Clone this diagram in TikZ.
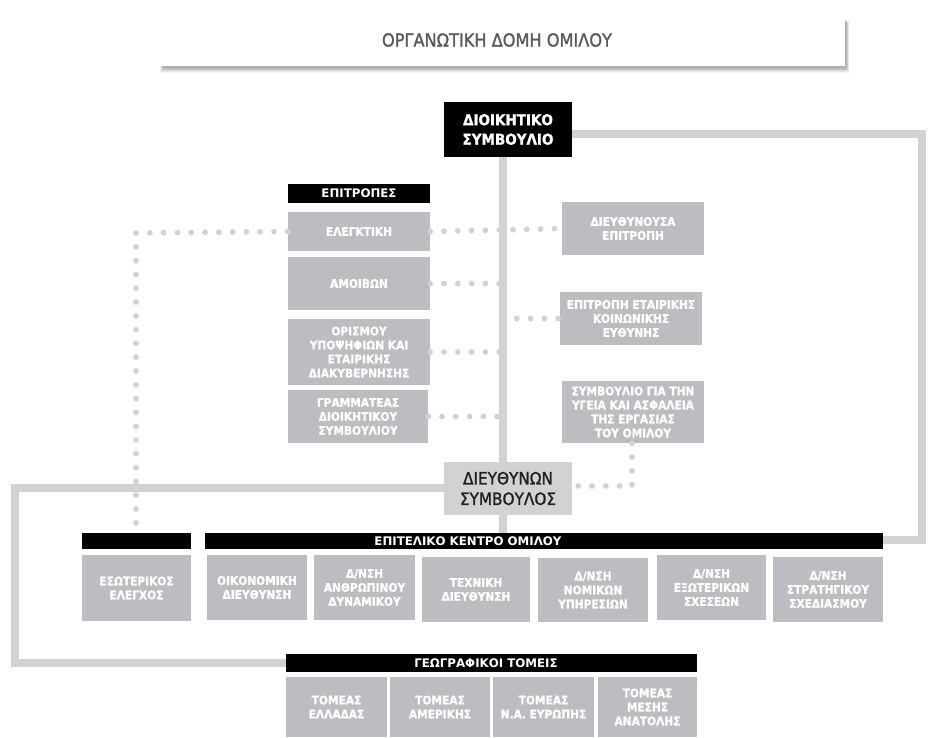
\documentclass[tikz,border=0pt]{standalone}
\usepackage{fontspec}
\setmainfont{DejaVu Sans}
\newfontfamily\condf{DejaVu Sans Condensed}[BoldFont={DejaVu Sans Condensed Bold}, BoldFeatures={FakeBold=1.2}]
\newfontfamily\condmed{DejaVu Sans Condensed}[FakeBold=1.3]
\usetikzlibrary{calc}
\definecolor{boxg}{HTML}{BCBDC0}
\definecolor{lineg}{HTML}{D1D2D4}
\definecolor{titleg}{HTML}{58595B}
\definecolor{darkt}{HTML}{231F20}
\tikzset{
  gbox/.style={fill=boxg, text=white, font=\condf\fontsize{11.8}{14}\selectfont\bfseries, align=center, inner sep=1pt},
  hbar/.style={fill=black, text=white, font=\fontsize{11.8}{12}\selectfont\bfseries, inner sep=0pt},
  htext/.style={text=white, font=\fontsize{11.8}{12}\selectfont\bfseries, inner sep=0pt},
  solidln/.style={draw=lineg, line width=8pt},
  dotln/.style={draw=lineg, line width=5.8pt, line cap=round, dash pattern=on 0pt off 13.8pt},
}
\begin{document}
\begin{tikzpicture}[x=1pt,y=-1pt]
\useasboundingbox (0,0) rectangle (929,737);
% title with shadow
\foreach \s in {0,1,2,3,4,5,6}{
  \fill[black, opacity=0.05] ({163-\s*0.5},{20+\s*0.3}) rectangle ({846+\s*0.5},{68+\s*0.8});
}
\node[fill=white, minimum width=685pt, minimum height=54pt, inner sep=0pt] (titlebox) at (502.5,39) {};
\node[text=titleg, inner sep=0pt, font=\condmed\fontsize{18}{20}\selectfont] (title) at (497,40) {ΟΡΓΑΝΩΤΙΚΗ ΔΟΜΗ ΟΜΙΛΟΥ};

\coordinate (vx) at (503,0);
\coordinate (lx) at (136,233);
\coordinate (lend) at (136,524);
\coordinate (rx) at (632,486);
\coordinate (tr) at (922,134);
\coordinate (br) at (922,540);
\coordinate (tl) at (15,488);
\coordinate (bl) at (15,663);

% nodes
\node[fill=black, text=white, font=\condf\fontsize{15}{19.5}\selectfont\bfseries, align=center,
      minimum width=128pt, minimum height=55pt, inner sep=0pt] (ds) at (508,129.5) {ΔΙΟΙΚΗΤΙΚΟ\\ΣΥΜΒΟΥΛΙΟ};
\node[fill=lineg, text=darkt, font=\condmed\fontsize{17}{20.5}\selectfont, align=center,
      minimum width=128pt, minimum height=53pt, inner sep=0pt] (ceo) at (508,488.5) {ΔΙΕΥΘΥΝΩΝ\\ΣΥΜΒΟΥΛΟΣ};

\node[hbar, minimum width=142pt, minimum height=19pt] (epit) at (359,193.5) {ΕΠΙΤΡΟΠΕΣ};
\node[gbox, minimum width=142pt, minimum height=39pt] (eleg) at (359,231.5) {ΕΛΕΓΚΤΙΚΗ};
\node[gbox, minimum width=142pt, minimum height=53pt] (amoi) at (359,283.5) {ΑΜΟΙΒΩΝ};
\node[gbox, minimum width=142pt, minimum height=66pt] (oris) at (359,352) {ΟΡΙΣΜΟΥ\\ΥΠΟΨΗΦΙΩΝ ΚΑΙ\\ΕΤΑΙΡΙΚΗΣ\\ΔΙΑΚΥΒΕΡΝΗΣΗΣ};
\node[gbox, minimum width=140pt, minimum height=53pt] (gram) at (358,416.5) {ΓΡΑΜΜΑΤΕΑΣ\\ΔΙΟΙΚΗΤΙΚΟΥ\\ΣΥΜΒΟΥΛΙΟΥ};

\node[gbox, minimum width=142pt, minimum height=53pt] (dieu) at (633,228.5) {ΔΙΕΥΘΥΝΟΥΣΑ\\ΕΠΙΤΡΟΠΗ};
\node[gbox, minimum width=142pt, minimum height=53pt] (etai) at (631,318.5) {ΕΠΙΤΡΟΠΗ ΕΤΑΙΡΙΚΗΣ\\ΚΟΙΝΩΝΙΚΗΣ\\ΕΥΘΥΝΗΣ};
\node[gbox, minimum width=142pt, minimum height=62pt] (ygei) at (633,412) {ΣΥΜΒΟΥΛΙΟ ΓΙΑ ΤΗΝ\\ΥΓΕΙΑ ΚΑΙ ΑΣΦΑΛΕΙΑ\\ΤΗΣ ΕΡΓΑΣΙΑΣ\\ΤΟΥ ΟΜΙΛΟΥ};

\node[hbar, minimum width=109pt, minimum height=16pt] (esbar) at (136.5,541) {};
\node[hbar, minimum width=678pt, minimum height=16pt] (kbar) at (544,541) {};
\node[htext] (ktext) at (468,541) {ΕΠΙΤΕΛΙΚΟ ΚΕΝΤΡΟ ΟΜΙΛΟΥ};

\node[gbox, minimum width=109pt, minimum height=66pt] (esot) at (136.5,588) {ΕΣΩΤΕΡΙΚΟΣ\\ΕΛΕΓΧΟΣ};
\node[gbox, minimum width=100pt, minimum height=65pt] (oiko) at (257,587.5) {ΟΙΚΟΝΟΜΙΚΗ\\ΔΙΕΥΘΥΝΣΗ};
\node[gbox, minimum width=101pt, minimum height=65pt] (anth) at (364.5,587.5) {Δ/ΝΣΗ\\ΑΝΘΡΩΠΙΝΟΥ\\ΔΥΝΑΜΙΚΟΥ};
\node[gbox, minimum width=108pt, minimum height=65pt] (tech) at (476,589.5) {ΤΕΧΝΙΚΗ\\ΔΙΕΥΘΥΝΣΗ};
\node[gbox, minimum width=110pt, minimum height=64pt] (nomi) at (593,590) {Δ/ΝΣΗ\\ΝΟΜΙΚΩΝ\\ΥΠΗΡΕΣΙΩΝ};
\node[gbox, minimum width=109pt, minimum height=65pt] (exot) at (711.5,587.5) {Δ/ΝΣΗ\\ΕΞΩΤΕΡΙΚΩΝ\\ΣΧΕΣΕΩΝ};
\node[gbox, minimum width=110pt, minimum height=65pt] (stra) at (828,589.5) {Δ/ΝΣΗ\\ΣΤΡΑΤΗΓΙΚΟΥ\\ΣΧΕΔΙΑΣΜΟΥ};

\node[hbar, minimum width=411pt, minimum height=18pt] (gbar) at (491.5,663) {};
\node[htext] (gtext) at (486,663) {ΓΕΩΓΡΑΦΙΚΟΙ ΤΟΜΕΙΣ};
\node[gbox, minimum width=101pt, minimum height=60pt] (ella) at (336.5,707) {ΤΟΜΕΑΣ\\ΕΛΛΑΔΑΣ};
\node[gbox, minimum width=100pt, minimum height=60pt] (amer) at (440,707) {ΤΟΜΕΑΣ\\ΑΜΕΡΙΚΗΣ};
\node[gbox, minimum width=101pt, minimum height=60pt] (eyro) at (543.5,707) {ΤΟΜΕΑΣ\\Ν.Α. ΕΥΡΩΠΗΣ};
\node[gbox, minimum width=99pt, minimum height=60pt] (mesi) at (647.5,707) {ΤΟΜΕΑΣ\\ΜΕΣΗΣ\\ΑΝΑΤΟΛΗΣ};

% dotted connectors
\draw[dotln] (eleg.west) -- (lx) -- (lend);
\draw[dotln] (eleg.east) -- (dieu.west);
\draw[dotln] (amoi.east) -- (amoi.east -| vx);
\draw[dotln] (oris.east) -- (oris.east -| vx);
\draw[dotln] (gram.east) -- (gram.east -| vx);
\draw[dotln] (etai.west -| vx) -- (etai.west);
\draw[dotln] (ygei.south -| rx) -- (rx) -- (ceo.east |- rx);

% solid connectors
\draw[solidln] (ds.south -| vx) -- (ceo.north -| vx);
\draw[solidln] (ceo.south -| vx) -- (kbar.north -| vx);
\draw[solidln] (ds.east |- tr) -- (tr) -- (br) -- (kbar.east |- br);
\draw[solidln] (ceo.west |- tl) -- (tl) -- (bl) -- (gbar.west |- bl);
\end{tikzpicture}
\end{document}
